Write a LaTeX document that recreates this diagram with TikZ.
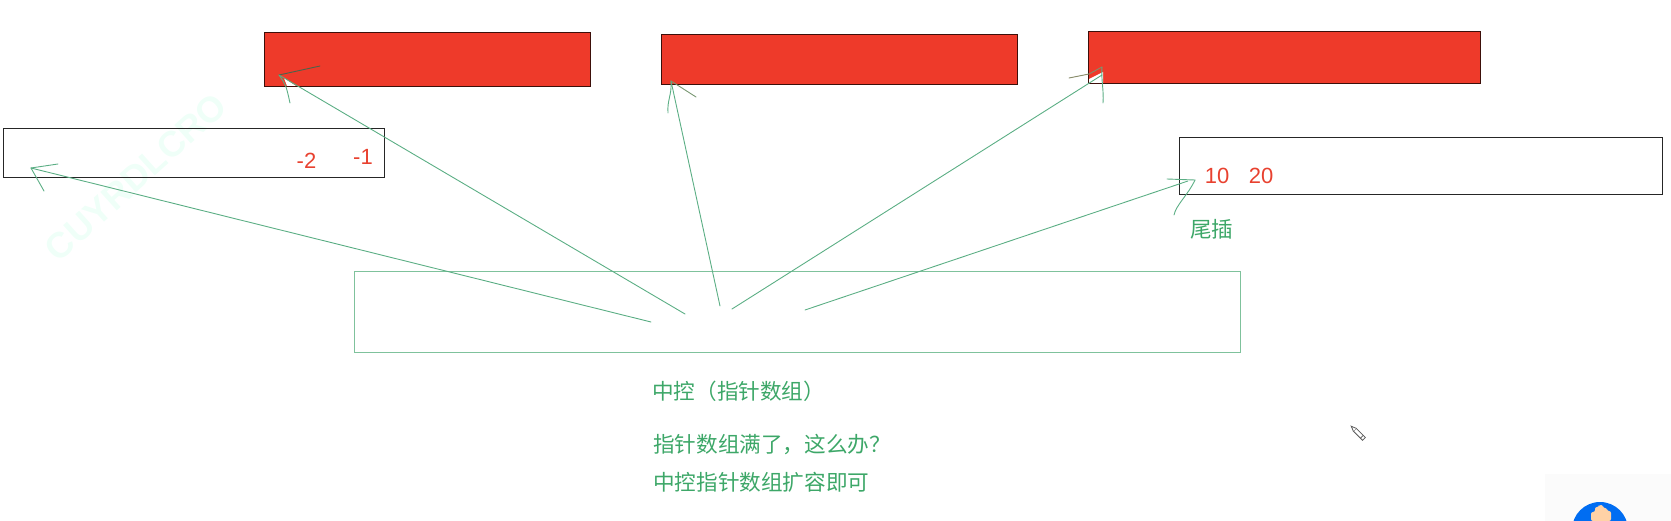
\documentclass[tikz,border=0pt]{standalone}
\usepackage{fontspec}
\setmainfont{Liberation Sans}
\newfontfamily\cjk{Noto Sans CJK SC}
\definecolor{redfill}{HTML}{EE3A2A}
\definecolor{penline}{HTML}{5BAE84}
\definecolor{boxgreen}{HTML}{7FC29C}
\definecolor{txtgreen}{HTML}{3DA768}
\definecolor{txtred}{HTML}{E8412F}
\definecolor{wmark}{HTML}{EFFFF8}
\tikzset{
  redbox/.style={draw=black!75!redfill,fill=redfill,line width=0.9pt,inner sep=0pt,outer sep=0pt},
  whitebox/.style={draw=black!85,line width=0.9pt,inner sep=0pt,outer sep=0pt},
  greenbox/.style={draw=boxgreen,line width=1pt,inner sep=0pt,outer sep=0pt},
  pen/.style={draw=penline,line width=0.9pt,line cap=round},
  rednum/.style={text=txtred,font=\fontsize{22}{24}\selectfont,inner sep=0pt},
  greentxt/.style={text=txtgreen,font=\cjk\fontsize{21.6}{24}\selectfont,inner sep=0pt,anchor=west},
}
\begin{document}
\begin{tikzpicture}[x=1pt,y=-1pt]
\useasboundingbox (0,0) rectangle (1671,521);
% watermark
\node[text=wmark,font=\fontsize{36}{40}\selectfont\bfseries,rotate=42,inner sep=0pt] (wm) at (136,177) {CUYRDLCRO};
% boxes
\node[redbox,minimum width=326pt,minimum height=54pt] (r1) at (427.3,59) {};
\node[redbox,minimum width=356pt,minimum height=50pt] (r2) at (839.7,59) {};
\node[redbox,minimum width=392pt,minimum height=52pt] (r3) at (1284,57) {};
\node[whitebox,minimum width=381.5pt,minimum height=49pt] (w1) at (193.7,152.5) {};
\node[whitebox,minimum width=483pt,minimum height=57.5pt] (w2) at (1420.5,166.2) {};
\node[greenbox,minimum width=886pt,minimum height=81pt] (ctrl) at (797,312.5) {};
% erased corners
\fill[white] (284,78) -- (296,86) -- (287,86) -- cycle;
\fill[white] (1103,72) -- (1103,83) -- (1089,83) -- (1089,79) -- cycle;
% coordinates
\coordinate (s1) at (651,322);
\coordinate (s2) at (685,314);
\coordinate (s3) at (720,306);
\coordinate (s4) at (732,309);
\coordinate (s5) at (805,310);
\coordinate (e1) at (31,168);
\coordinate (e2) at (279,75);
\coordinate (e3) at (671,81);
\coordinate (e4) at (1102,75);
\coordinate (e5) at (1188,181);
\coordinate (b1a) at (58,164);
\coordinate (b1b) at (44,191);
\coordinate (b2a) at (320,66);
\coordinate (b2b) at (290,103);
\coordinate (b3a) at (668,113);
\coordinate (b3b) at (696,97);
\coordinate (b4a) at (1069,78);
\coordinate (b4b) at (1103,103);
\coordinate (b5a) at (1167,179);
\coordinate (b5b) at (1174,215);
% connectors
\draw[pen] (s1) -- (e1);
\draw[pen] (s2) -- (e2);
\draw[pen] (s3) -- (e3);
\draw[pen] (s4) -- (e4);
\draw[pen] (s5) -- (e5);
% hand-drawn barbs
\draw[pen] (e1) -- (b1a);
\draw[pen] (e1) -- (b1b);
\draw[pen,draw=penline!60!black!90!redfill] (e2) -- (b2a);
\draw[pen] (e2) .. controls (286,85) .. (b2b);
\draw[pen] (e3) .. controls (672,95) and (667,100) .. (b3a);
\draw[pen,draw=penline!80!redfill] (e3) -- (b3b);
\draw[pen,draw=penline!70!redfill] (b4a) -- (1089,74) -- (1102,67);
\draw[pen] (1102,67) .. controls (1101,80) and (1104,90) .. (b4b);
\draw[pen] (1195,180) -- (b5a);
\draw[pen] (1195,180) .. controls (1188,195) and (1176,205) .. (b5b);
% labels
\node[rednum] (m2) at (306.5,161) {-2};
\node[rednum] (m1) at (363,157) {-1};
\node[rednum] (n10) at (1217,176) {10};
\node[rednum] (n20) at (1261,176) {20};
\node[greentxt] (tail) at (1190,229) {尾插};
\node[greentxt] (t1) at (652,391) {中控（指针数组）};
\node[greentxt] (t2) at (653,445) {指针数组满了，这么办？};
\node[greentxt] (t3) at (653,482) {中控指针数组扩容即可};
% pencil cursor
\begin{scope}[shift={(1359,434)},rotate=-45]
  \draw[black!65,fill=white,line width=0.8pt] (-6,-2) rectangle (7,2);
  \draw[black!65,fill=white,line width=0.8pt] (-6,-2) -- (-11,0) -- (-6,2);
  \draw[black!65,line width=0.8pt] (4,-2) -- (4,2);
\end{scope}
% bottom-right badge
\fill[black!1.5] (1545,474) rectangle (1671,521);
\fill[blue!55!cyan!95!black] (1600,530) circle (28);
\fill[orange!35!white,rounded corners=2pt] (1591,521) -- (1591,512) -- (1595,512) -- (1595,507) -- (1599,507) -- (1599,505) -- (1603,505) -- (1603,508) -- (1607,508) -- (1607,511) -- (1611,511) -- (1611,521) -- cycle;
\end{tikzpicture}
\end{document}
